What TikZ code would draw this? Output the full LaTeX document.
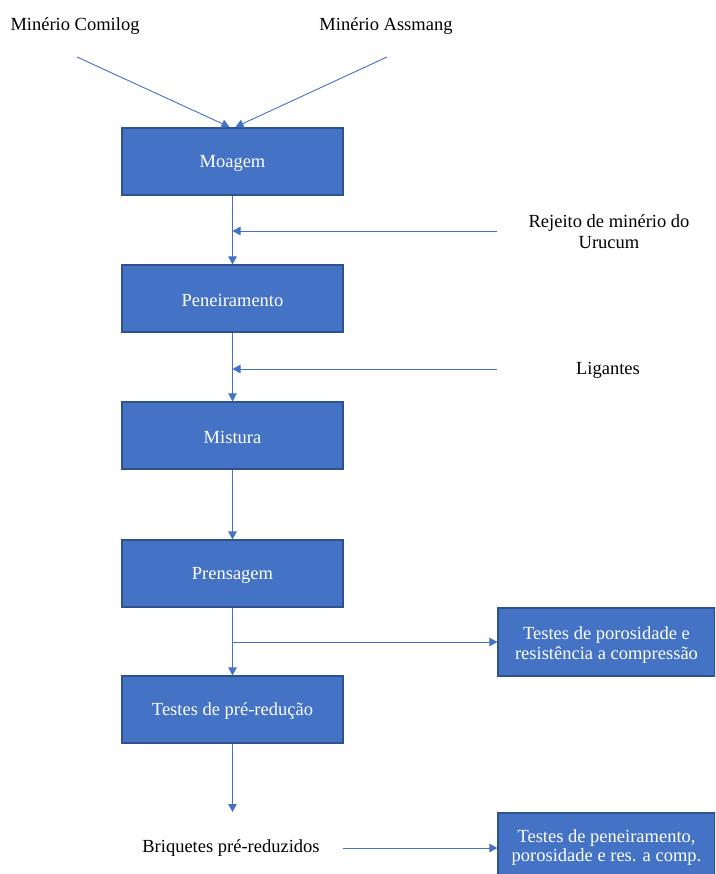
\documentclass[tikz,border=0pt]{standalone}
\usepackage{fontspec}
\setmainfont{Liberation Serif}
\usetikzlibrary{arrows.meta}
\definecolor{boxfill}{HTML}{4472C4}
\definecolor{boxedge}{HTML}{2F528F}
\definecolor{linec}{HTML}{4472C4}
\newcommand{\lowerby}[2]{\raisebox{-#1}[\height][\depth]{#2}}
\begin{document}
\begin{tikzpicture}[x=1pt,y=-1pt,
  procbox/.style={draw=boxedge,line width=1.2pt,fill=boxfill,text=white,minimum width=221pt,minimum height=67pt,inner sep=0pt,font=\rmfamily\fontsize{18.5}{23}\selectfont,align=center},
  sidebox/.style={draw=boxedge,line width=1.2pt,fill=boxfill,text=white,minimum width=217pt,minimum height=68pt,inner sep=0pt,font=\rmfamily\fontsize{18.5}{23.5}\selectfont,align=center},
  plain/.style={inner sep=0pt,font=\rmfamily\fontsize{18.5}{21}\selectfont,align=center},
  flow/.style={draw=linec,line width=0.9pt,-{Triangle[length=8pt,width=8.5pt]}}]
\clip (0,0) rectangle (715,874);
\fill[white] (0,0) rectangle (715,874);
% labels
\node[plain] (comilog) at (75,26) {Minério Comilog};
\node[plain] (assmang) at (386,26) {Minério Assmang};
\node[plain] (rejeito) at (609,232) {Rejeito de minério do\\Urucum};
\node[plain] (ligantes) at (608,370) {Ligantes};
\node[plain] (briq) at (231,848) {Briquetes pré-reduzidos};
% boxes
\node[procbox] (moagem) at (232.5,161.5) {\lowerby{2pt}{Moagem}};
\node[procbox] (pen) at (232.5,298.5) {\lowerby{2pt}{Peneiramento}};
\node[procbox] (mist) at (232.5,435.5) {\lowerby{2pt}{Mistura}};
\node[procbox] (prens) at (232.5,573.5) {\lowerby{2pt}{Prensagem}};
\node[procbox] (prered) at (232.5,709.5) {\lowerby{2pt}{Testes de pré-redução}};
\node[sidebox] (tporo) at (606.5,642) {\lowerby{3pt}{\shortstack{Testes de porosidade e\\resistência a compressão}}};
\node[sidebox] (tpen) at (606.5,847) {\lowerby{0.5pt}{\shortstack{Testes de peneiramento,\\porosidade e res. a comp.}}};
% coordinates
\coordinate (c1) at (77,57);
\coordinate (c2) at (387,57);
\coordinate (m1) at (229.5,127);
\coordinate (m2) at (235.5,127);
\coordinate (r0) at (497,231);
\coordinate (r1) at (232.5,231);
\coordinate (l0) at (497,369);
\coordinate (l1) at (232.5,369);
\coordinate (br) at (232.5,642);
\coordinate (bot) at (232.5,812);
\coordinate (b0) at (343,848);
% connectors
\draw[flow] (c1) -- (m1);
\draw[flow] (c2) -- (m2);
\draw[flow] (moagem.south) -- (pen.north);
\draw[flow] (r0) -- (r1);
\draw[flow] (pen.south) -- (mist.north);
\draw[flow] (l0) -- (l1);
\draw[flow] (mist.south) -- (prens.north);
\draw[flow] (prens.south) -- (prered.north);
\draw[flow] (br) -- (tporo.west);
\draw[flow] (prered.south) -- (bot);
\draw[flow] (b0) -- (tpen.west |- b0);
\end{tikzpicture}
\end{document}
